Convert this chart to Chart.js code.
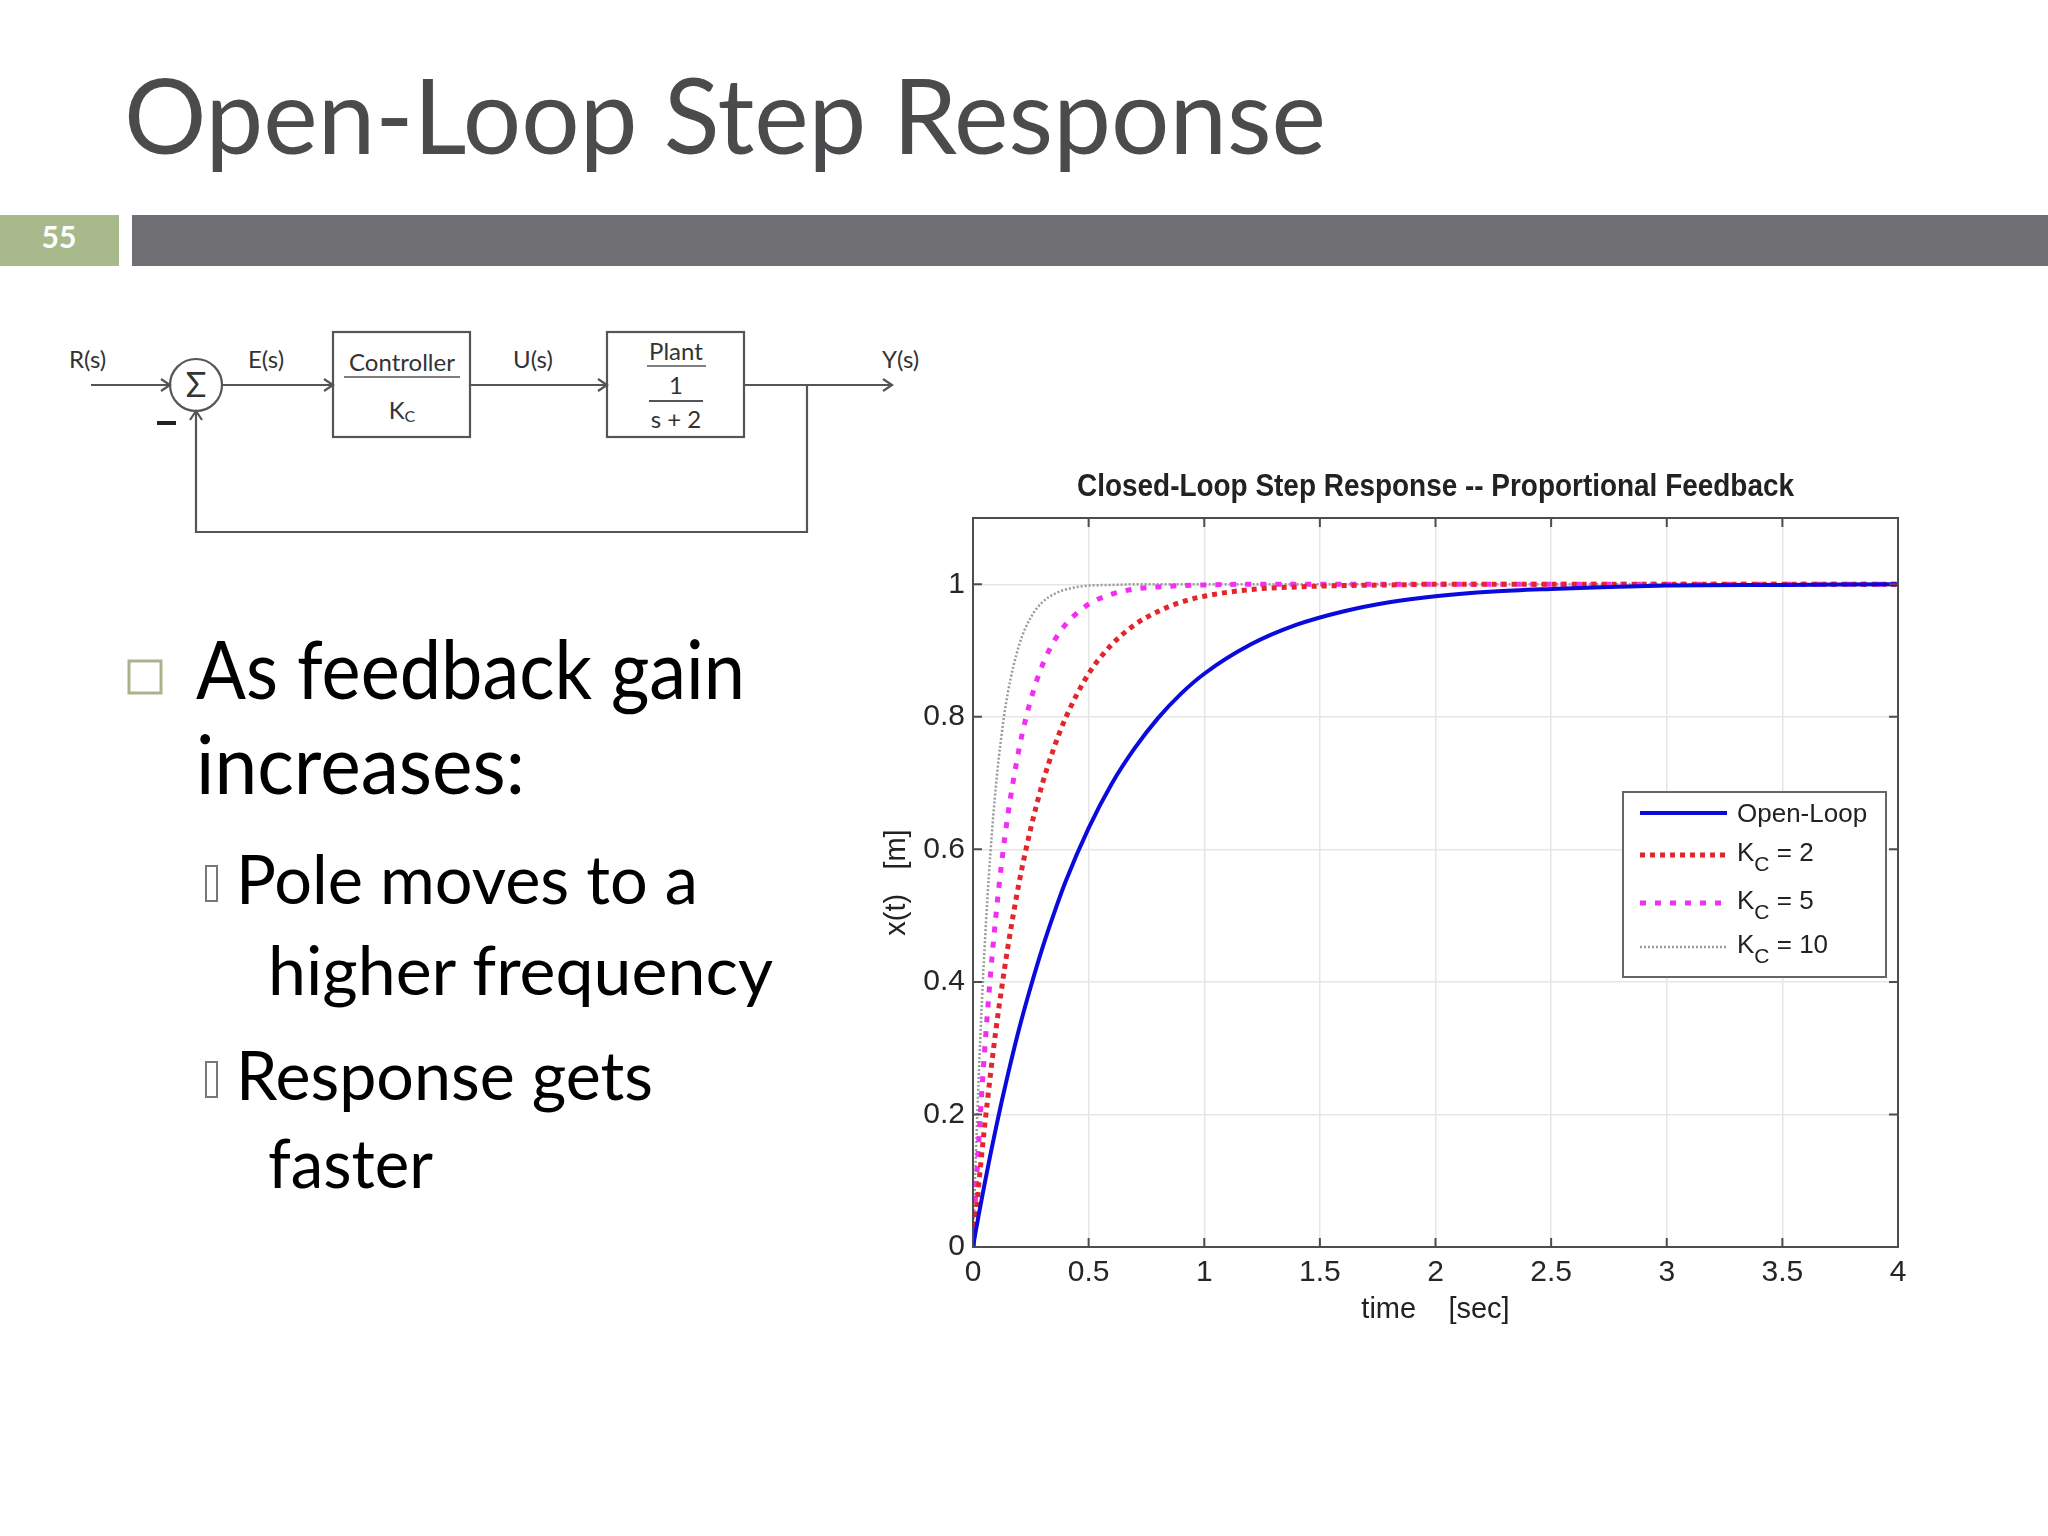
<!DOCTYPE html>
<html>
<head>
<meta charset="utf-8">
<script src="https://cdn.jsdelivr.net/npm/chart.js@4.4.1/dist/chart.umd.min.js"></script>
<style>
  html, body { margin: 0; padding: 0; background: #fff; }
  #page { position: relative; width: 2048px; height: 1536px; overflow: hidden; background: #fff; }
  #deco { position: absolute; left: 0; top: 0; }
  #chart { position: absolute; left: 860px; top: 450px; width: 1060px; height: 880px; }
  svg text { font-family: Lato, "Open Sans", sans-serif; }
</style>
</head>
<body>
<div id="page">
<svg id="deco" width="2048" height="1536" viewBox="0 0 2048 1536">
  <!-- slide header -->
  <text x="124" y="154" font-size="104" fill="#4b4b4d" textLength="1202" lengthAdjust="spacingAndGlyphs">Open-Loop Step Response</text>
  <rect x="0" y="215" width="119" height="51" fill="#a8ba8c"/>
  <text x="59" y="248" text-anchor="middle" font-weight="bold" font-size="30" fill="#fff">55</text>
  <rect x="132" y="215" width="1916" height="51" fill="#707074"/>

  <!-- block diagram -->
  <g stroke="#555" stroke-width="2.2" fill="none">
    <line x1="91" y1="385" x2="170" y2="385"/>
    <polyline points="161,379 170,385 161,391"/>
    <circle cx="196" cy="385" r="26"/>
    <line x1="222" y1="385" x2="333" y2="385"/>
    <polyline points="324,379 333,385 324,391"/>
    <rect x="333" y="332" width="137" height="105"/>
    <line x1="470" y1="385" x2="607" y2="385"/>
    <polyline points="598,379 607,385 598,391"/>
    <rect x="607" y="332" width="137" height="105"/>
    <line x1="744" y1="385" x2="892" y2="385"/>
    <polyline points="883,379 892,385 883,391"/>
    <polyline points="807,385 807,532 196,532 196,411"/>
    <polyline points="190,420 196,411 202,420"/>
    <line x1="344" y1="377" x2="460" y2="377" stroke-width="1.6"/>
    <line x1="647" y1="366" x2="706" y2="366" stroke-width="1.6"/>
    <line x1="649" y1="401" x2="703" y2="401" stroke-width="1.8"/>
  </g>
  <line x1="157" y1="423" x2="176" y2="423" stroke="#222" stroke-width="4"/>
  <g font-size="24" fill="#333">
    <text x="196" y="397" text-anchor="middle" font-size="34">Σ</text>
    <text x="69" y="368">R(s)</text>
    <text x="248" y="368">E(s)</text>
    <text x="513" y="368">U(s)</text>
    <text x="882" y="368">Y(s)</text>
    <text x="402" y="371" text-anchor="middle">Controller</text>
    <text x="402" y="419" text-anchor="middle">K<tspan font-size="16" dy="3">C</tspan></text>
    <text x="676" y="360" text-anchor="middle">Plant</text>
    <text x="676" y="394" text-anchor="middle">1</text>
    <text x="676" y="428" text-anchor="middle">s + 2</text>
  </g>

  <!-- bullets -->
  <rect x="129" y="661" width="32" height="32" fill="none" stroke="#a9b48f" stroke-width="3"/>
  <g fill="#000">
    <text x="196" y="699" font-size="82" textLength="549" lengthAdjust="spacingAndGlyphs">As feedback gain</text>
    <text x="196" y="794" font-size="82" textLength="329" lengthAdjust="spacingAndGlyphs">increases:</text>
    <text x="236" y="904" font-size="67" textLength="462" lengthAdjust="spacingAndGlyphs">Pole moves to a</text>
    <text x="268" y="995" font-size="67" textLength="505" lengthAdjust="spacingAndGlyphs">higher frequency</text>
    <text x="236" y="1100" font-size="67" textLength="417" lengthAdjust="spacingAndGlyphs">Response gets</text>
    <text x="268" y="1188" font-size="67" textLength="165" lengthAdjust="spacingAndGlyphs">faster</text>
  </g>
  <rect x="206" y="866" width="11" height="35" fill="none" stroke="#777" stroke-width="2"/>
  <rect x="206" y="1062" width="11" height="35" fill="none" stroke="#777" stroke-width="2"/>
</svg>
<canvas id="chart" width="1060" height="880"></canvas>
</div>

<script>
// time samples [sec] and responses
const times   = [0, 0.0125, 0.025, 0.0375, 0.05, 0.075, 0.1, 0.125, 0.15, 0.2, 0.25, 0.3, 0.35, 0.4, 0.5, 0.6, 0.7, 0.8, 0.9, 1.0, 1.2, 1.4, 1.6, 1.8, 2.0, 2.25, 2.5, 2.75, 3.0, 3.5, 4.0];
const openLoop = [0, 0.025, 0.049, 0.072, 0.095, 0.139, 0.181, 0.221, 0.259, 0.330, 0.393, 0.451, 0.503, 0.551, 0.632, 0.699, 0.753, 0.798, 0.835, 0.865, 0.909, 0.939, 0.959, 0.973, 0.982, 0.989, 0.993, 0.996, 0.998, 0.999, 1.000];
const kc2  = [0, 0.049, 0.095, 0.139, 0.181, 0.259, 0.330, 0.393, 0.451, 0.551, 0.632, 0.699, 0.753, 0.798, 0.865, 0.909, 0.939, 0.959, 0.973, 0.982, 0.992, 0.996, 0.998, 0.999, 1, 1, 1, 1, 1, 1, 1];
const kc5  = [0, 0.084, 0.161, 0.231, 0.295, 0.408, 0.503, 0.583, 0.650, 0.753, 0.826, 0.878, 0.914, 0.939, 0.970, 0.985, 0.993, 0.996, 0.998, 0.999, 1, 1, 1, 1, 1, 1, 1, 1, 1, 1, 1];
const kc10 = [0, 0.139, 0.259, 0.362, 0.451, 0.593, 0.699, 0.777, 0.835, 0.909, 0.950, 0.973, 0.985, 0.992, 0.998, 0.999, 1, 1, 1, 1, 1, 1, 1, 1, 1, 1, 1, 1, 1, 1, 1];

const xTicks = [0, 0.5, 1, 1.5, 2, 2.5, 3, 3.5, 4];
const yTicks = [0, 0.2, 0.4, 0.6, 0.8, 1];

// legend text: [main, subscript, rest]
const legendLabels = [["Open-Loop", "", ""], ["K", "C", " = 2"], ["K", "C", " = 5"], ["K", "C", " = 10"]];

const NARROW = "'Liberation Sans Narrow', 'Liberation Sans', Arial, sans-serif";

function pts(vals){
  return times.map((t, i) => ({x: t, y: vals[i]}));
}

const framePlugin = {
  id: "frame",
  afterDraw(chart){
    const {ctx, chartArea: a, scales: {x, y}} = chart;
    ctx.save();
    // full box + inward ticks (matlab style)
    ctx.strokeStyle = "#4d4d4d";
    ctx.lineWidth = 2;
    ctx.strokeRect(a.left, a.top, a.width, a.height);
    ctx.beginPath();
    xTicks.forEach(v => {
      const px = x.getPixelForValue(v);
      ctx.moveTo(px, a.bottom); ctx.lineTo(px, a.bottom - 9);
      ctx.moveTo(px, a.top); ctx.lineTo(px, a.top + 9);
    });
    yTicks.forEach(v => {
      const py = y.getPixelForValue(v);
      ctx.moveTo(a.left, py); ctx.lineTo(a.left + 9, py);
      ctx.moveTo(a.right, py); ctx.lineTo(a.right - 9, py);
    });
    ctx.stroke();

    // title over the plot area
    ctx.fillStyle = "#222";
    ctx.font = "bold 31px " + NARROW;
    ctx.textAlign = "center";
    ctx.textBaseline = "middle";
    ctx.fillText("Closed-Loop Step Response -- Proportional Feedback", (a.left + a.right) / 2, a.top - 31, 717);

    // legend
    const bx = a.right - 275, by = a.top + 274, bw = 263, bh = 185;
    ctx.fillStyle = "#fff";
    ctx.fillRect(bx, by, bw, bh);
    ctx.strokeStyle = "#666";
    ctx.lineWidth = 2;
    ctx.strokeRect(bx, by, bw, bh);
    const rows = [21, 63, 111, 155];
    chart.data.datasets.forEach((ds, i) => {
      const ry = by + rows[i];
      ctx.save();
      ctx.strokeStyle = ds.borderColor;
      ctx.lineWidth = ds.borderWidth;
      ctx.setLineDash(ds.borderDash || []);
      ctx.beginPath();
      ctx.moveTo(bx + 17, ry);
      ctx.lineTo(bx + 104, ry);
      ctx.stroke();
      ctx.restore();
      const [main, sub, rest] = legendLabels[i];
      let tx = bx + 114;
      ctx.fillStyle = "#222";
      ctx.textAlign = "left";
      ctx.textBaseline = "alphabetic";
      ctx.font = "26px 'Liberation Sans', Arial, sans-serif";
      const base = ry + (sub ? 6 : 9);
      ctx.fillText(main, tx, base);
      tx += ctx.measureText(main).width;
      if(sub){
        ctx.font = "21px 'Liberation Sans', Arial, sans-serif";
        ctx.fillText(sub, tx, base + 10);
        tx += ctx.measureText(sub).width;
        ctx.font = "26px 'Liberation Sans', Arial, sans-serif";
        ctx.fillText(rest, tx, base);
      }
    });
    ctx.restore();
  }
};

new Chart(document.getElementById("chart"), {
  type: "line",
  data: {
    datasets: [
      {
        label: "Open-Loop",
        data: pts(openLoop),
        borderColor: "#0a0adc",
        borderWidth: 4
      },
      {
        label: "Kc = 2",
        data: pts(kc2),
        borderColor: "#e3262b",
        borderWidth: 5,
        borderDash: [5, 5]
      },
      {
        label: "Kc = 5",
        data: pts(kc5),
        borderColor: "#f22ef0",
        borderWidth: 5,
        borderDash: [6, 9]
      },
      {
        label: "Kc = 10",
        data: pts(kc10),
        borderColor: "#9a9a9a",
        borderWidth: 2.5,
        borderDash: [2, 2]
      }
    ]
  },
  options: {
    responsive: false,
    animation: false,
    layout: {padding: {top: 68, right: 22, left: 0, bottom: 0}},
    elements: {
      point: {radius: 0},
      line: {cubicInterpolationMode: "monotone", borderCapStyle: "butt"}
    },
    plugins: {
      legend: {display: false},
      tooltip: {enabled: false}
    },
    scales: {
      x: {
        type: "linear",
        min: 0, max: 4,
        afterBuildTicks: s => { s.ticks = xTicks.map(v => ({value: v})); },
        afterFit: s => { s.height = 83; },
        ticks: {color: "#262626", font: {family: NARROW, size: 30}, padding: 8, maxRotation: 0, callback: v => String(v)},
        grid: {color: "#e6e6e6", lineWidth: 1.5, drawTicks: false},
        border: {display: false},
        title: {display: true, text: "time    [sec]", color: "#222", font: {family: NARROW, size: 29}, padding: {top: 0, bottom: 3}}
      },
      y: {
        type: "linear",
        min: 0, max: 1.1,
        afterBuildTicks: s => { s.ticks = yTicks.map(v => ({value: v})); },
        afterFit: s => { s.width = 113; },
        ticks: {color: "#262626", font: {family: NARROW, size: 30}, padding: 8, callback: v => String(v)},
        grid: {color: "#e6e6e6", lineWidth: 1.5, drawTicks: false},
        border: {display: false},
        title: {display: true, text: "x(t)   [m]", color: "#222", font: {family: NARROW, size: 29}, padding: {top: 20, bottom: 0}}
      }
    }
  },
  plugins: [framePlugin]
});
</script>
</body>
</html>
